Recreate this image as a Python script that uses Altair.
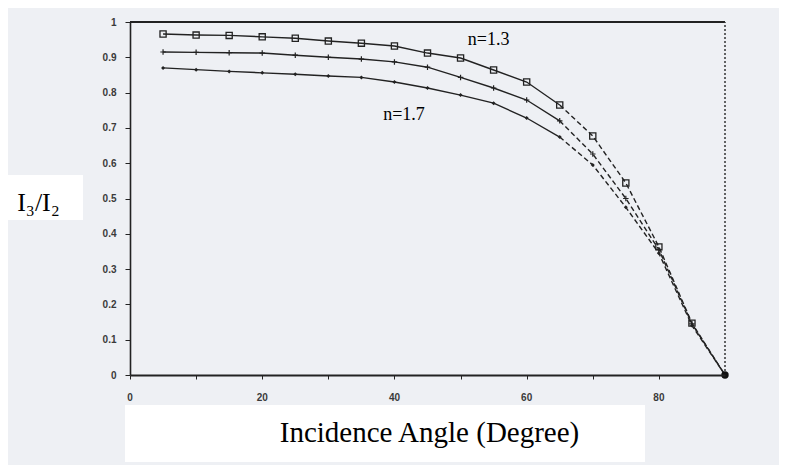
import altair as alt
import pandas as pd

# ---- data ----
angles = [5, 10, 15, 20, 25, 30, 35, 40, 45, 50, 55, 60, 65, 70, 75, 80, 85, 90]
n13 = [0.966, 0.963, 0.962, 0.958, 0.954, 0.946, 0.940, 0.932, 0.912, 0.898,
       0.864, 0.830, 0.765, 0.677, 0.544, 0.363, 0.147, 0.0]
n15 = [0.915, 0.914, 0.913, 0.912, 0.906, 0.900, 0.895, 0.887, 0.872, 0.843,
       0.813, 0.779, 0.720, 0.626, 0.500, 0.355, 0.145, 0.0]
n17 = [0.870, 0.865, 0.860, 0.856, 0.852, 0.847, 0.843, 0.830, 0.813, 0.793,
       0.770, 0.728, 0.674, 0.595, 0.475, 0.345, 0.140, 0.0]
series_names = ["n=1.3", "n=1.5", "n=1.7"]
x_ticks = [0, 10, 20, 30, 40, 50, 60, 70, 80]
x_label_values = [0, 20, 40, 60, 80]
x_label_text = ["0", "20", "40", "60", "80"]
y_ticks = [0, 0.1, 0.2, 0.3, 0.4, 0.5, 0.6, 0.7, 0.8, 0.9, 1.0]
label_text = ["n=1.3", "n=1.7"]
label_angle = [51.1, 38.3]
label_value = [0.935, 0.722]
dash_from = 65  # the steep part of each curve is drawn dashed

rows = []
for name, vals in zip(series_names, [n13, n15, n17]):
    for a, v in zip(angles, vals):
        if a <= dash_from:
            rows.append({"angle": a, "value": v, "series": name, "part": "solid"})
        if a >= dash_from:
            rows.append({"angle": a, "value": v, "series": name, "part": "dashed"})
lines_df = pd.DataFrame(rows)
df = pd.DataFrame([
    {"angle": a, "value": v, "series": name}
    for name, vals in zip(series_names, [n13, n15, n17])
    for a, v in zip(angles, vals)
])

labels_df = pd.DataFrame({"angle": label_angle, "value": label_value, "label": label_text})
xlab_df = pd.DataFrame({"angle": [float(v) for v in x_label_values], "label": x_label_text})
top_df = pd.DataFrame({"angle": [x_ticks[0]], "angle2": [90], "value": [y_ticks[-1]]})
right_df = pd.DataFrame({"angle": [90], "value": [y_ticks[0]], "value2": [y_ticks[-1]]})
end_df = df[df["angle"] == 90].head(1)

INK = "#222222"
xs = alt.Scale(domain=[0, 90], nice=False)
ys = alt.Scale(domain=[0, 1], nice=False)

x_axis = alt.Axis(
    values=x_ticks, labels=False,
    title="Incidence Angle (Degree)",
    titleFont="Liberation Serif", titleFontSize=29, titleFontWeight="normal",
    titleColor="#000000", titleX=299, titleY=57, titleBaseline="middle",
    titleAlign="center",
    tickSize=4, tickColor=INK,
    domainColor=INK, domainWidth=2, grid=False, zindex=1,
)
y_axis = alt.Axis(
    values=y_ticks, format=".1~f", labelOverlap=False, labelFlush=False,
    title="I₃/I₂", titleAngle=0,
    titleFont="Liberation Serif", titleFontSize=26, titleFontWeight="normal",
    titleColor="#000000", titleX=-92, titleY=180, titleBaseline="middle",
    titleAlign="center",
    labelFont="Liberation Sans", labelFontSize=10, labelFontWeight="bold",
    labelColor="#3a3a3a", labelPadding=9, tickSize=5, tickColor=INK,
    domainColor=INK, domainWidth=1.6, grid=False, zindex=1,
)

X = alt.X("angle:Q", scale=xs, axis=x_axis)
Y = alt.Y("value:Q", scale=ys, axis=y_axis)

boxes = alt.Chart(pd.DataFrame({"k": [0]})).mark_rect(color="white").encode(
    x=alt.value(-5), x2=alt.value(515), y=alt.value(383), y2=alt.value(440)
)
box_y = alt.Chart(pd.DataFrame({"k": [0]})).mark_rect(color="white").encode(
    x=alt.value(-122), x2=alt.value(-47), y=alt.value(153), y2=alt.value(198)
)

solid_lines = alt.Chart(lines_df[lines_df["part"] == "solid"]).mark_line(
    color=INK, strokeWidth=1.4
).encode(x=X, y=Y, detail="series:N")
dashed_lines = alt.Chart(lines_df[lines_df["part"] == "dashed"]).mark_line(
    color=INK, strokeWidth=1.4, strokeDash=[5, 3]
).encode(x=X, y=Y, detail="series:N")

sq = alt.Chart(df[(df["series"] == "n=1.3") & (df["angle"] < 90)]).mark_point(
    shape="square", filled=False, color=INK, size=38, strokeWidth=1.3, opacity=1
).encode(x=X, y=Y)
plus = alt.Chart(df[(df["series"] == "n=1.5") & (df["angle"] < 90)]).mark_point(
    shape="M-1,0H1M0,-1V1", filled=False, color=INK, size=30, strokeWidth=1.2, opacity=1
).encode(x=X, y=Y)
dia = alt.Chart(df[(df["series"] == "n=1.7") & (df["angle"] < 90)]).mark_point(
    shape="diamond", filled=True, color=INK, size=16, opacity=1
).encode(x=X, y=Y)
end = alt.Chart(end_df).mark_point(
    shape="circle", filled=True, color="#111111", size=55, opacity=1
).encode(x=X, y=Y)

top_rule = alt.Chart(top_df).mark_rule(color=INK, strokeWidth=1.8).encode(
    x=X, x2="angle2:Q", y=Y
)
right_rule = alt.Chart(right_df).mark_rule(color="#333333", strokeWidth=1.5, strokeDash=[2, 2]).encode(
    x=X, y=Y, y2="value2:Q"
)

labels = alt.Chart(labels_df).mark_text(
    font="Liberation Serif", fontSize=18, color="#000000", align="left", baseline="alphabetic"
).encode(x=X, y=Y, text="label:N")

xlabels = alt.Chart(xlab_df).mark_text(
    font="Liberation Sans", fontSize=10, fontWeight="bold", color="#3a3a3a",
    align="center", baseline="middle"
).encode(x=X, y=alt.value(376), text="label:N")

chart = alt.layer(
    boxes, box_y, top_rule, right_rule, solid_lines, dashed_lines, sq, plus, dia, end,
    labels, xlabels
).properties(
    width=595, height=353,
    autosize=alt.AutoSizeParams(type="none"),
    padding={"left": 122, "top": 14, "right": 54, "bottom": 90},
    background="#eef0f4",
).configure_view(strokeWidth=0)

chart.save("out.html", embed_options={"renderer": "svg", "actions": False})
